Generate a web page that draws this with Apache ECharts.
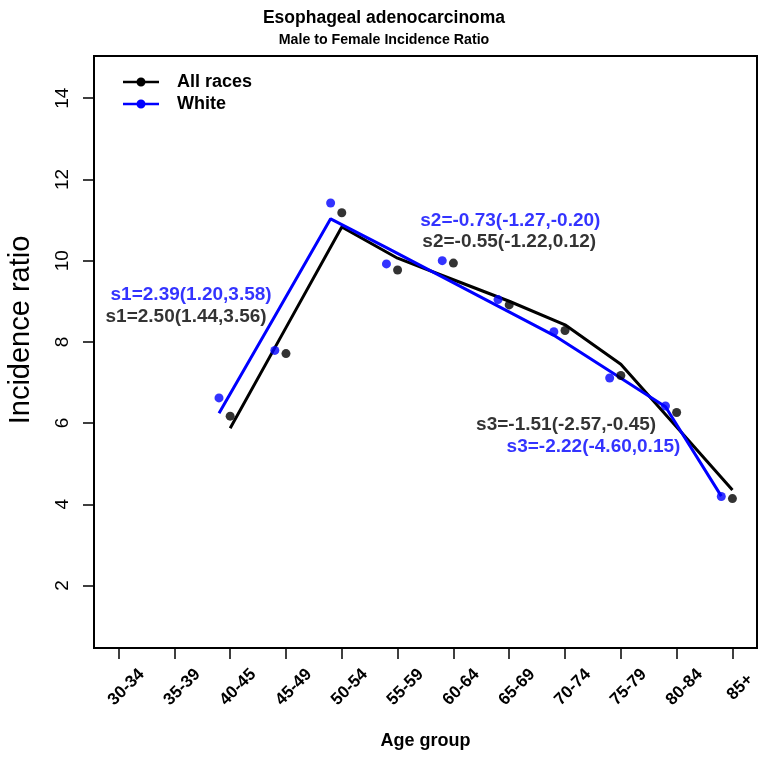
<!DOCTYPE html>
<html>
<head>
<meta charset="utf-8">
<script src="https://cdn.jsdelivr.net/npm/echarts@6/dist/echarts.min.js"></script>
<style>
html,body{margin:0;padding:0;background:#fff;}
#chart{width:768px;height:760px;}
</style>
</head>
<body>
<div id="chart"></div>
<script>
// ---- data ----
var ageGroups = ['30-34','35-39','40-45','45-49','50-54','55-59','60-64','65-69','70-74','75-79','80-84','85+'];
var yTicks = [2, 4, 6, 8, 10, 12, 14];
// observed groups start at 40-45 (3rd category)
var firstObsIndex = 3;
var allRacesObs = [6.17, 7.71, 11.18, 9.77, 9.94, 8.91, 8.28, 7.17, 6.26, 4.14];
var whiteObs    = [6.62, 7.79, 11.42, 9.92, 10.00, 9.04, 8.25, 7.11, 6.42, 4.19];
var allRacesFit = [5.87, 8.35, 10.83, 10.06, 9.53, 9.00, 8.42, 7.45, 5.90, 4.35];
var whiteFit    = [6.24, 8.63, 11.03, 10.32, 9.60, 8.88, 8.16, 7.28, 6.40, 4.20];
var whiteShift = -0.2; // horizontal jitter of the White series
var annotations = [
  {text: 's1=2.39(1.20,3.58)', series: 'White', x: 2.30, y: 9.16},
  {text: 's1=2.50(1.44,3.56)', series: 'All races', x: 2.21, y: 8.62},
  {text: 's2=-0.73(-1.27,-0.20)', series: 'White', x: 8.02, y: 10.97},
  {text: 's2=-0.55(-1.22,0.12)', series: 'All races', x: 8.00, y: 10.47},
  {text: 's3=-1.51(-2.57,-0.45)', series: 'All races', x: 9.02, y: 5.95},
  {text: 's3=-2.22(-4.60,0.15)', series: 'White', x: 9.51, y: 5.42}
];
var colors = {'All races': '#000000', 'White': '#0000ff'};

function toPairs(arr, shift) {
  return arr.map(function (v, i) { return [firstObsIndex + i + shift, v]; });
}
var xTickVals = ageGroups.map(function (_, i) { return i + 1; });

var FONT = '"Liberation Sans", Arial, Helvetica, sans-serif';
var legendIcon = 'path://M0,3.75 L36,3.75 L36,6.25 L0,6.25 Z M13.5,5 A4.5,4.5 0 1,1 22.5,5 A4.5,4.5 0 1,1 13.5,5 Z';

var chart = echarts.init(document.getElementById('chart'), null, {renderer: 'canvas'});
var option = {
  animation: false,
  backgroundColor: '#ffffff',
  textStyle: {fontFamily: FONT, color: '#000'},
  title: {
    text: 'Esophageal adenocarcinoma',
    subtext: 'Male to Female Incidence Ratio',
    left: 'center',
    top: 4,
    itemGap: 6,
    textStyle: {fontFamily: FONT, fontSize: 17.5, fontWeight: 'bold', color: '#000'},
    subtextStyle: {fontFamily: FONT, fontSize: 14.2, fontWeight: 'bold', color: '#000'}
  },
  legend: {
    orient: 'vertical',
    left: 123,
    top: 73,
    padding: 0,
    itemWidth: 36,
    itemHeight: 10,
    itemGap: 4,
    selectedMode: false,
    data: [
      {name: 'All races', icon: legendIcon},
      {name: 'White', icon: legendIcon}
    ],
    textStyle: {fontFamily: FONT, fontSize: 18, fontWeight: 'bold', color: '#000', padding: [0, 0, 0, 13]}
  },
  grid: {
    left: 94, right: 11, top: 56, bottom: 112,
    show: true, borderColor: '#000', borderWidth: 2,
    containLabel: false,
    outerBoundsMode: 'none'
  },
  xAxis: {
    type: 'value',
    min: 0.56, max: 12.44,
    name: 'Age group',
    nameLocation: 'middle',
    nameGap: 84,
    nameTextStyle: {fontFamily: FONT, fontSize: 18, fontWeight: 'bold', color: '#000'},
    axisLine: {show: false},
    splitLine: {show: false},
    axisTick: {show: true, customValues: xTickVals, length: 11, inside: false, lineStyle: {color: '#000', width: 1.5}},
    axisLabel: {
      customValues: xTickVals,
      formatter: function (v) { return ageGroups[Math.round(v) - 1] || ''; },
      rotate: 45,
      align: 'center',
      verticalAlign: 'middle',
      padding: [0, 0, 0, 22],
      margin: 47,
      fontFamily: FONT, fontSize: 17, fontWeight: 'bold', color: '#000'
    }
  },
  yAxis: {
    type: 'value',
    min: 0.46, max: 15.04,
    name: 'Incidence ratio',
    nameLocation: 'middle',
    nameGap: 59,
    nameTextStyle: {fontFamily: FONT, fontSize: 29, color: '#000', padding: [0, 0, 0, 44]},
    axisLine: {show: false},
    splitLine: {show: false},
    axisTick: {show: true, customValues: yTicks, length: 11, inside: false, lineStyle: {color: '#000', width: 1.5}},
    axisLabel: {
      customValues: yTicks,
      rotate: 90,
      margin: 22,
      fontFamily: FONT, fontSize: 19, color: '#000'
    }
  },
  series: [
    {
      name: 'All races', type: 'line', data: toPairs(allRacesFit, 0),
      symbol: 'none', lineStyle: {color: colors['All races'], width: 3},
      itemStyle: {color: colors['All races']}, z: 2, silent: true
    },
    {
      name: 'White', type: 'line', data: toPairs(whiteFit, whiteShift),
      symbol: 'none', lineStyle: {color: colors['White'], width: 3},
      itemStyle: {color: colors['White']}, z: 3, silent: true
    },
    {
      name: 'All races', type: 'scatter', data: toPairs(allRacesObs, 0),
      symbol: 'circle', symbolSize: 9, itemStyle: {color: colors['All races']}, z: 4, silent: true
    },
    {
      name: 'White', type: 'scatter', data: toPairs(whiteObs, whiteShift),
      symbol: 'circle', symbolSize: 9, itemStyle: {color: colors['White']}, z: 4, silent: true
    },
    {
      name: 'annotations', type: 'scatter', symbolSize: 0, silent: true, z: 5,
      data: annotations.map(function (a) {
        return {
          value: [a.x, a.y],
          label: {
            show: true, position: 'inside', formatter: a.text,
            color: colors[a.series], fontFamily: FONT, fontSize: 19, fontWeight: 'bold'
          }
        };
      })
    }
  ]
};
chart.setOption(option);
</script>
</body>
</html>
